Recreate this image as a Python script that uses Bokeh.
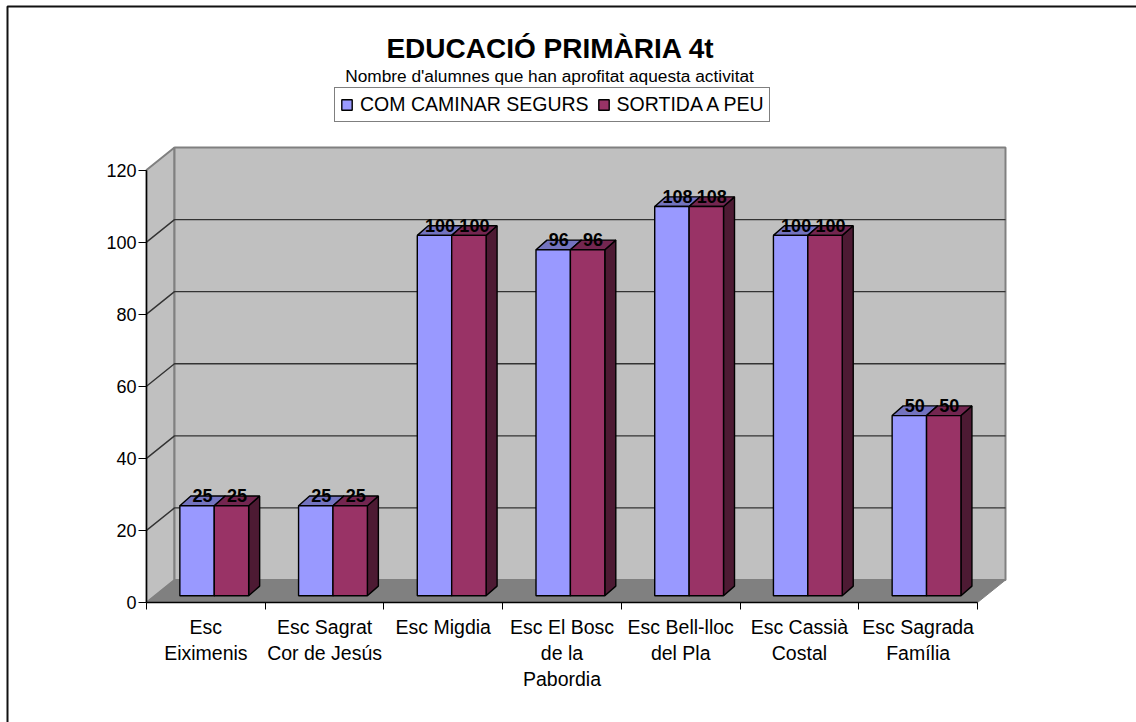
from bokeh.plotting import figure
from bokeh.models import ColumnDataSource, FixedTicker, Label, Legend, LegendItem, LinearAxis, Range1d
from bokeh.core.properties import value
from bokeh.embed import file_html
from bokeh.resources import INLINE

categories = ["Esc\nEiximenis", "Esc Sagrat\nCor de Jesús", "Esc Migdia", "Esc El Bosc\nde la\nPabordia",
              "Esc Bell-lloc\ndel Pla", "Esc Cassià\nCostal", "Esc Sagrada\nFamília"]
com_caminar = [25, 25, 100, 96, 108, 100, 50]
sortida = [25, 25, 100, 96, 108, 100, 50]
y_ticks = [0, 20, 40, 60, 80, 100, 120]
series_names = ["COM CAMINAR SEGURS", "SORTIDA A PEU"]
title_text = "EDUCACIÓ PRIMÀRIA 4t"
subtitle_text = "Nombre d'alumnes que han aprofitat aquesta activitat"

FONT = "Liberation Sans"
W, H = 1136, 722
# page pixels of the chart's origin and extents
PX_L, PX_B, PX_FRONT_R, PX_120 = 146.0, 602.0, 977.0, 169.5
nc = len(categories)
slot_px = (PX_FRONT_R - PX_L) / nc
unit_px = (PX_B - PX_120) / 120
xpx = lambda n: n / slot_px
ypx = lambda n: n / unit_px
page_x = lambda px: (px - PX_L) / slot_px
page_y = lambda py: (PX_B - py) / unit_px

wall_dx, wall_dy = xpx(28), ypx(22.5)
bar_w = xpx(34.4)
bar_dx, bar_dy = xpx(11), ypx(9.7)
bar_ox, bar_oy = xpx(8.4), ypx(6.7)
y_end = 120 + wall_dy
x_end = nc + wall_dx

p = figure(width=W, height=H, output_backend="svg", toolbar_location=None,
           x_range=Range1d(page_x(0), page_x(W)), y_range=Range1d(page_y(H), page_y(0)),
           x_axis_type=None, y_axis_type=None,
           min_border_left=0, min_border_right=0, min_border_top=0, min_border_bottom=0,
           outline_line_color=None, background_fill_color="white")
p.xgrid.visible = False
p.ygrid.visible = False

# chart-area border (only its top and left edges are inside the picture)
p.line([page_x(7), page_x(7), page_x(W)], [page_y(H), page_y(6), page_y(6)], line_color="#111111", line_width=2)

# walls and floor
GREY = "#C0C0C0"
DARK = "#808080"
p.patch([0, wall_dx, wall_dx, 0], [0, wall_dy, y_end, 120], fill_color=GREY, line_color=DARK, line_width=2)
p.patch([wall_dx, x_end, x_end, wall_dx], [wall_dy, wall_dy, y_end, y_end], fill_color=GREY, line_color=DARK, line_width=2)
p.patch([0, nc, x_end, wall_dx], [0, 0, wall_dy, wall_dy], fill_color=DARK, line_color=DARK)

# gridlines
for t in y_ticks[1:-1]:
    p.line([0, wall_dx, x_end], [t, t + wall_dy, t + wall_dy], line_color="#333333", line_width=1.4)


def bar(x0, v, front, top, side):
    x1 = x0 + bar_w
    y0 = bar_oy
    y1 = v + bar_oy
    p.patch([x1, x1 + bar_dx, x1 + bar_dx, x1], [y0, y0 + bar_dy, y1 + bar_dy, y1],
            fill_color=side, line_color="black", line_width=1.4)
    p.patch([x0, x0 + bar_dx, x1 + bar_dx, x1], [y1, y1 + bar_dy, y1 + bar_dy, y1],
            fill_color=top, line_color="black", line_width=1.4)
    return p.quad(left=[x0], right=[x1], bottom=[y0], top=[y1], fill_color=front,
                  line_color="black", line_width=1.4)


r1 = r2 = None
lx, ly, lt = [], [], []
for i, (a, b) in enumerate(zip(com_caminar, sortida)):
    c = i + 0.5 + bar_ox
    r1 = bar(c - bar_w, a, "#9999FF", "#7373BF", "#4D4D80")
    r2 = bar(c, b, "#993366", "#732650", "#4D1A33")
    lx += [c - bar_w / 2 + xpx(5.5), c + bar_w / 2 + xpx(5.5)]
    ly += [a + bar_oy + ypx(10), b + bar_oy + ypx(10)]
    lt += [str(a), str(b)]

lab = ColumnDataSource(dict(x=lx, y=ly, t=lt))
p.text(x="x", y="y", text="t", source=lab, text_align="center", text_baseline="middle",
       text_font=value(FONT), text_font_size="18px", text_font_style="bold", text_color="black")

# axes
yax = LinearAxis(ticker=FixedTicker(ticks=y_ticks), bounds=(0, 120), fixed_location=0,
                 axis_line_color="black", axis_line_width=1.4,
                 major_tick_line_color="black", major_tick_in=0, major_tick_out=8, minor_tick_line_color=None,
                 major_label_text_font=FONT, major_label_text_font_size="18px", major_label_text_color="black",
                 major_label_standoff=2)
p.add_layout(yax, "left")
centers = [i + 0.5 for i in range(nc)]
xax = LinearAxis(ticker=FixedTicker(ticks=centers, minor_ticks=list(range(nc + 1))), bounds=(0, nc), fixed_location=0,
                 axis_line_color="black", axis_line_width=1.4,
                 major_tick_line_color=None, major_tick_in=0, major_tick_out=0,
                 minor_tick_line_color="black", minor_tick_in=0, minor_tick_out=7,
                 major_label_overrides={c: n for c, n in zip(centers, categories)},
                 major_label_text_font=FONT, major_label_text_font_size="19.5px", major_label_text_color="black",
                 major_label_standoff=6)
p.add_layout(xax, "below")


def page_label(text, cx, cy, size, style="normal"):
    p.add_layout(Label(x=page_x(cx), y=page_y(cy), text=text, text_align="center",
                       text_baseline="middle", text_font=FONT, text_font_size=size, text_font_style=style,
                       text_color="black"))


page_label(title_text, 550, 48, "28px", "bold")
page_label(subtitle_text, 549, 75, "17.3px")

legend = Legend(items=[LegendItem(label=series_names[0], renderers=[r1]), LegendItem(label=series_names[1], renderers=[r2])],
                orientation="horizontal", location=(334, H - 122),
                border_line_color="black", border_line_width=1.4, background_fill_color="white", background_fill_alpha=1,
                label_text_font=FONT, label_text_font_size="19.5px", label_text_color="black",
                glyph_width=13, glyph_height=13, label_standoff=7, spacing=8, padding=5, margin=0, label_height=20)
p.add_layout(legend, "center")

open("out.html", "w").write(file_html(p, INLINE))
